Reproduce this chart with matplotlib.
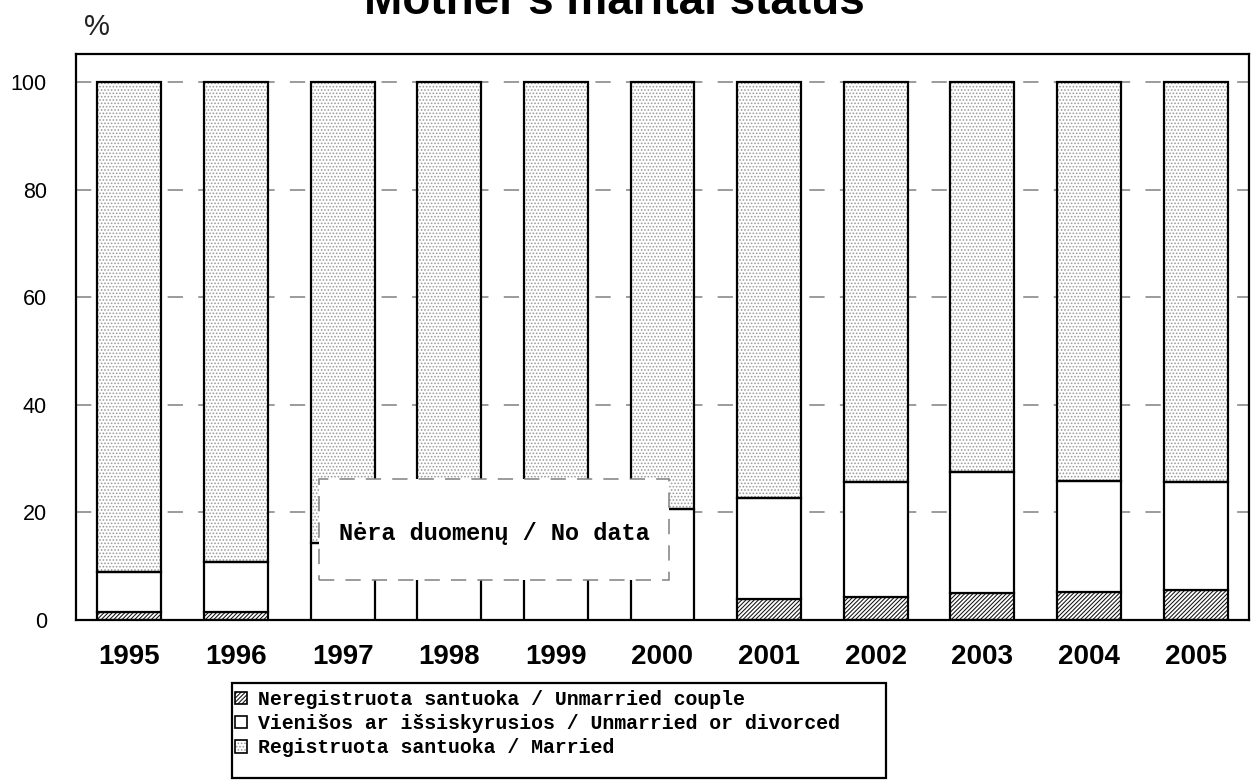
import matplotlib
matplotlib.use('Agg')
import matplotlib.pyplot as plt
from matplotlib.patches import Rectangle, Patch
from matplotlib.legend_handler import HandlerTuple
import numpy as np

plt.rcParams['lines.scale_dashes'] = False
plt.rcParams['hatch.linewidth'] = 0.75

# ---- data ----
years = ['1995', '1996', '1997', '1998', '1999', '2000',
         '2001', '2002', '2003', '2004', '2005']
unmarried_couple = [1.4, 1.5, 0.0, 0.0, 0.0, 0.0, 3.9, 4.2, 5.0, 5.2, 5.5]
unmarried_divorced = [7.6, 9.3, 14.4, 16.0, 18.0, 20.7, 18.7, 21.4, 22.6, 20.7, 20.1]
married = [91.0, 89.2, 85.6, 84.0, 82.0, 79.3, 77.4, 74.4, 72.4, 74.1, 74.4]
labels = ['Neregistruota santuoka / Unmarried couple',
          'Vienišos ar išsiskyrusios / Unmarried or divorced',
          'Registruota santuoka / Married']
yticks = [0, 20, 40, 60, 80, 100]
title = "Mother's marital status"
nodata = 'Nėra duomenų / No data'

W, H = 1252, 782
fig = plt.figure(figsize=(W / 100, H / 100), dpi=100)
ax = fig.add_axes([76 / W, 1 - 620 / H, (1249 - 76) / W, (620 - 54) / H])

x = np.arange(len(years))
bw = 0.6
bottom2 = np.array(unmarried_couple)
bottom3 = bottom2 + np.array(unmarried_divorced)

edge_lw = 1.6
couple_hatch = '////////'
married_hatch = '.....'
# unmarried couple
ax.bar(x, unmarried_couple, bw, color='white', edgecolor='#111111',
       hatch=couple_hatch, linewidth=0, zorder=2)
ax.bar(x, unmarried_couple, bw, fill=False, edgecolor='black', linewidth=edge_lw, zorder=3)
# unmarried or divorced
ax.bar(x, unmarried_divorced, bw, bottom=bottom2, color='white',
       edgecolor='black', linewidth=edge_lw, zorder=3)
# married
ax.bar(x, married, bw, bottom=bottom3, color='white', edgecolor='#9a9a9a',
       hatch=married_hatch, linewidth=0, zorder=2)
ax.bar(x, married, bw, bottom=bottom3, fill=False, edgecolor='black',
       linewidth=edge_lw, zorder=3)

ax.set_xlim(-0.5, len(years) - 0.5)
ax.set_ylim(0, 105.2)
ax.set_yticks(yticks)
ax.set_yticklabels([str(v) for v in yticks], fontsize=15.5, family='Liberation Sans')
ax.set_xticks(x)
ax.set_xticklabels(years, fontsize=20, fontweight='bold', family='Liberation Sans')
ax.tick_params(axis='y', length=0, pad=21)
ax.tick_params(axis='x', length=0, pad=17.5)
ax.yaxis.grid(True, color='#808080', linestyle=(0, (11, 11)), linewidth=1.1)
ax.set_axisbelow(True)
for s in ax.spines.values():
    s.set_linewidth(1.6)
    s.set_color('black')

# no-data box
box = Rectangle((1.78, 7.4), 5.06 - 1.78, 26.2 - 7.4, facecolor='white',
                edgecolor='#808080', linestyle=(0, (11, 8)), linewidth=1.1, zorder=5)
ax.add_patch(box)
ax.text((1.78 + 5.06) / 2, 16.0, nodata, ha='center', va='center', zorder=6,
        family='Liberation Mono', fontweight='bold', fontsize=17)

# title and unit
fig.text(0.491, 1 - 14 / H, title, ha='center', va='baseline', fontsize=33,
         fontweight='bold', family='Liberation Sans')
fig.text(84 / W, 1 - 35 / H, '%', ha='left', va='baseline', fontsize=21,
         family='Liberation Sans', color='#222222')

# legend
ph1 = Patch(facecolor='white', edgecolor='#111111', hatch=couple_hatch, linewidth=0)
pe = Patch(facecolor='none', edgecolor='black', linewidth=1.2)
ph3 = Patch(facecolor='white', edgecolor='#9a9a9a', hatch=married_hatch, linewidth=0)
handles = [(ph1, pe), (pe,), (ph3, pe)]
leg = fig.legend(handles, labels, loc='upper left',
                 bbox_to_anchor=(231 / W, 1 - 686 / H), frameon=False,
                 handler_map={tuple: HandlerTuple(ndivide=1)},
                 prop={'family': 'Liberation Mono', 'weight': 'bold', 'size': 14.3},
                 handlelength=0.6, handleheight=0.6, handletextpad=0.55,
                 labelspacing=0.26, borderaxespad=0, borderpad=0.2)
fig.add_artist(Rectangle((232 / W, 1 - 778 / H), (886 - 232) / W, (778 - 683) / H,
                         transform=fig.transFigure, fill=False, edgecolor='black',
                         linewidth=1.6))

fig.savefig('out.png', dpi=100)
